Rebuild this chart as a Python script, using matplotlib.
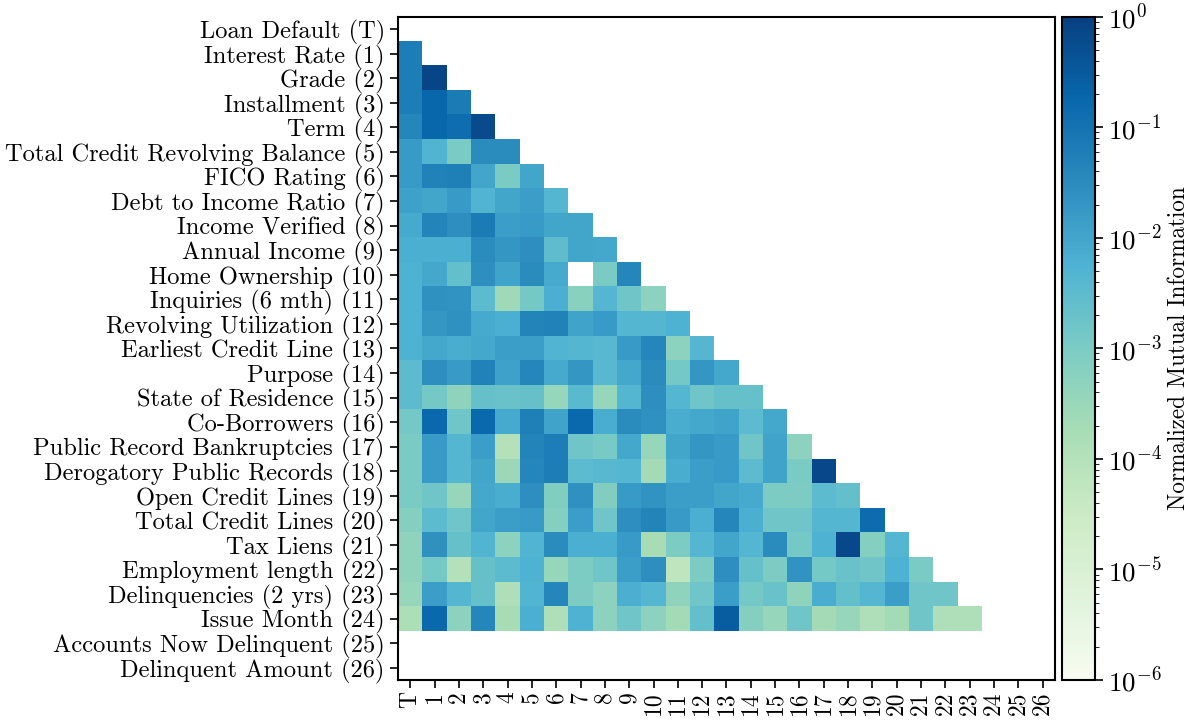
import numpy as np
import matplotlib
matplotlib.use("Agg")
import matplotlib.pyplot as plt
from matplotlib.colors import LogNorm

plt.rcParams["font.family"] = "serif"
plt.rcParams["font.serif"] = ["cmr10"]
plt.rcParams["mathtext.fontset"] = "cm"
plt.rcParams["axes.formatter.use_mathtext"] = True

# ── data: normalized mutual information, lower triangle (row i, cols 0..i-1) ──
features = [
    "Loan Default (T)", "Interest Rate (1)", "Grade (2)", "Installment (3)",
    "Term (4)", "Total Credit Revolving Balance (5)", "FICO Rating (6)",
    "Debt to Income Ratio (7)", "Income Verified (8)", "Annual Income (9)",
    "Home Ownership (10)", "Inquiries (6 mth) (11)", "Revolving Utilization (12)",
    "Earliest Credit Line (13)", "Purpose (14)", "State of Residence (15)",
    "Co-Borrowers (16)", "Public Record Bankruptcies (17)",
    "Derogatory Public Records (18)", "Open Credit Lines (19)",
    "Total Credit Lines (20)", "Tax Liens (21)", "Employment length (22)",
    "Delinquencies (2 yrs) (23)", "Issue Month (24)",
    "Accounts Now Delinquent (25)", "Delinquent Amount (26)",
]
short_ticks = ["T"] + [str(i) for i in range(1, 27)]

nan = np.nan
row01 = [0.063]
row02 = [0.063, 0.8]
row03 = [0.063, 0.18, 0.07]
row04 = [0.04, 0.18, 0.13, 0.63]
row05 = [0.016, 0.005, 0.001, 0.032, 0.032]
row06 = [0.016, 0.05, 0.056, 0.01, 0.001, 0.01]
row07 = [0.0125, 0.01, 0.016, 0.005, 0.01, 0.014, 0.0045]
row08 = [0.008, 0.045, 0.028, 0.07, 0.014, 0.016, 0.01, 0.01]
row09 = [0.0063, 0.0063, 0.0063, 0.032, 0.02, 0.028, 0.0028, 0.01, 0.0089]
row10 = [0.0056, 0.0089, 0.0025, 0.028, 0.011, 0.032, 0.008, nan, 0.001, 0.04]
row11 = [0.0056, 0.025, 0.022, 0.0032, 0.00025, 0.0013, 0.0063, 0.00056,
         0.0045, 0.0016, 0.0005]
row12 = [0.0056, 0.02, 0.025, 0.008, 0.0063, 0.045, 0.05, 0.011, 0.016,
         0.0045, 0.0045, 0.0056]
row13 = [0.0056, 0.0089, 0.007, 0.0089, 0.014, 0.014, 0.005, 0.0045, 0.004,
         0.016, 0.04, 0.0005, 0.0045]
row14 = [0.0032, 0.028, 0.016, 0.05, 0.0125, 0.04, 0.008, 0.02, 0.004, 0.0089,
         0.032, 0.0013, 0.02, 0.0089]
row15 = [0.0032, 0.0013, 0.00045, 0.0022, 0.002, 0.0022, 0.00035, 0.0035,
         0.00035, 0.0045, 0.028, 0.0045, 0.0016, 0.0022, 0.0022]
row16 = [0.0013, 0.16, 0.0016, 0.16, 0.008, 0.056, 0.011, 0.16, 0.007, 0.032,
         0.025, 0.007, 0.0089, 0.011, 0.0032, 0.0089]
row17 = [0.001, 0.016, 0.0045, 0.014, 0.0001, 0.045, 0.063, 0.0016, 0.0011,
         0.0089, 0.00035, 0.01, 0.02, 0.016, 0.0016, 0.011, 0.0005]
row18 = [0.001, 0.016, 0.0045, 0.01, 0.00028, 0.04, 0.063, 0.0032, 0.004,
         0.0045, 0.0002, 0.007, 0.014, 0.016, 0.0032, 0.011, 0.001, 0.7]
row19 = [0.001, 0.0016, 0.00035, 0.0089, 0.007, 0.028, 0.0008, 0.025, 0.0008,
         0.016, 0.022, 0.014, 0.014, 0.01, 0.008, 0.0009, 0.0009, 0.0032, 0.0025]
row20 = [0.0007, 0.0032, 0.0016, 0.01, 0.014, 0.016, 0.0007, 0.014, 0.0016,
         0.028, 0.045, 0.016, 0.0063, 0.04, 0.0063, 0.0016, 0.0016, 0.0045,
         0.0045, 0.14]
row21 = [0.00045, 0.025, 0.0022, 0.005, 0.0005, 0.005, 0.032, 0.0063, 0.0063,
         0.016, 0.00018, 0.0009, 0.0045, 0.01, 0.0045, 0.032, 0.0013, 0.0056,
         0.7, 0.0007, 0.0045]
row22 = [0.00045, 0.0013, 0.0001, 0.0022, 0.0032, 0.0056, 0.00035, 0.0009,
         0.0016, 0.014, 0.028, 0.000063, 0.0009, 0.028, 0.0022, 0.0009, 0.022,
         0.0013, 0.002, 0.0016, 0.0056, 0.001]
row23 = [0.00035, 0.014, 0.0045, 0.0022, 0.000125, 0.005, 0.04, 0.0009, 0.0005,
         0.0063, 0.0045, 0.00045, 0.0016, 0.014, 0.0013, 0.002, 0.00045, 0.007,
         0.0025, 0.0045, 0.014, 0.0016, 0.0016]
row24 = [0.00014, 0.16, 0.0005, 0.04, 0.00018, 0.0063, 0.000125, 0.0056, 0.0005,
         0.0016, 0.0005, 0.00022, 0.0025, 0.28, 0.0007, 0.00035, 0.0016, 0.0002,
         0.00035, 0.000125, 0.00022, 0.0016, 0.000125, 0.000125]

lower_rows = [row01, row02, row03, row04, row05, row06, row07, row08, row09,
              row10, row11, row12, row13, row14, row15, row16, row17, row18,
              row19, row20, row21, row22, row23, row24]

n = len(features)
mat = np.full((n, n), np.nan)
for i, vals in enumerate(lower_rows, start=1):
    assert len(vals) == i
    mat[i, :i] = vals

# ── plot ──────────────────────────────────────────────────────────────────────
fig = plt.figure(figsize=(11.9, 7.2), dpi=100)
ax = fig.add_axes([0.3345, 0.0556, 0.552, 0.921])
cax = fig.add_axes([0.8924, 0.0556, 0.0277, 0.921])

cmap = plt.get_cmap("GnBu").copy()
cmap.set_bad("white")
im = ax.imshow(np.ma.masked_invalid(mat), cmap=cmap,
               norm=LogNorm(vmin=1e-6, vmax=1), aspect="auto",
               interpolation="nearest")

ax.set_xticks(range(n))
ax.set_xticklabels(short_ticks, rotation=90, fontsize=17)
ax.set_yticks(range(n))
ax.set_yticklabels(features, fontsize=17.6)
ax.tick_params(length=6, width=1.2)
ax.tick_params(axis="x", pad=2)
for sp in ax.spines.values():
    sp.set_linewidth(1.5)

cb = fig.colorbar(im, cax=cax)
cb.set_label("Normalized Mutual Information", fontsize=16.7, labelpad=4)
cb.ax.tick_params(labelsize=19.5, length=6, width=1.2)
cb.ax.tick_params(which="minor", length=3)
cb.outline.set_linewidth(1.5)

plt.savefig("out.png", dpi=100)
plt.close()
